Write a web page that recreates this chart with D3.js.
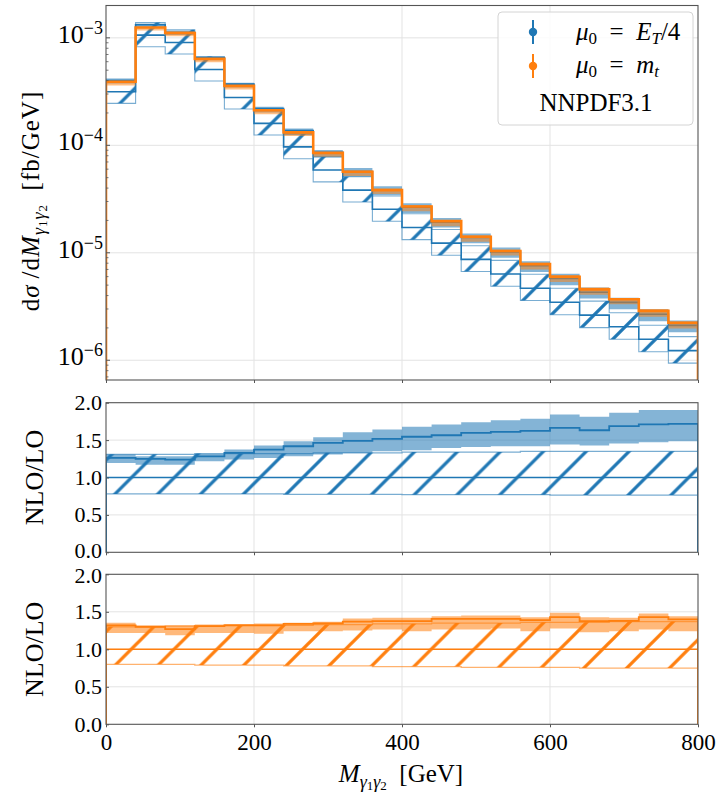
<!DOCTYPE html>
<html>
<head>
<meta charset="utf-8">
<script src="https://cdn.jsdelivr.net/npm/d3@7"></script>
<style>
    body { margin: 0; background: #fff; }
    text { font-family: "Liberation Serif", "DejaVu Serif", serif; fill: #000; }
</style>
</head>
<body>
<svg id="chart" width="717" height="794"></svg>
<script>
// bins of M_gamma1gamma2 [GeV]
var binLow = [0, 40, 80, 120, 160, 200, 240, 280, 320, 360, 400, 440, 480, 520, 560, 600, 640, 680, 720, 760];
var binEnd = 800;

// top panel: dsigma/dM [fb/GeV]
var nloMt = [3.9e-4, 1.25e-3, 1.11e-3, 6.38e-4, 3.57e-4, 2.12e-4, 1.32e-4, 8.5e-5, 5.67e-5, 3.83e-5,
             2.70e-5, 1.97e-5, 1.41e-5, 1.04e-5, 7.85e-6, 5.98e-6, 4.57e-6, 3.69e-6, 2.88e-6, 2.23e-6];
var loEt = [3.15e-4, 1.06e-3, 9.06e-4, 5.08e-4, 2.79e-4, 1.60e-4, 9.68e-5, 5.89e-5, 3.83e-5, 2.54e-5,
            1.72e-5, 1.23e-5, 8.69e-6, 6.34e-6, 4.67e-6, 3.46e-6, 2.63e-6, 2.05e-6, 1.57e-6, 1.23e-6];

// LO scale bands relative to LO central
var loEtUp   = [1.31, 1.31, 1.31, 1.32, 1.32, 1.32, 1.32, 1.33, 1.33, 1.33, 1.34, 1.34, 1.34, 1.34, 1.35, 1.35, 1.35, 1.35, 1.35, 1.35];
var loEtDown = [0.78, 0.78, 0.78, 0.78, 0.78, 0.78, 0.775, 0.775, 0.775, 0.775, 0.77, 0.77, 0.77, 0.77, 0.77, 0.765, 0.765, 0.765, 0.765, 0.765];
var loMtUp   = [1.30, 1.30, 1.31, 1.31, 1.32, 1.32, 1.32, 1.33, 1.33, 1.34, 1.34, 1.35, 1.35, 1.35, 1.36, 1.36, 1.36, 1.37, 1.37, 1.37];
var loMtDown = [0.80, 0.80, 0.80, 0.79, 0.79, 0.79, 0.78, 0.78, 0.78, 0.77, 0.77, 0.77, 0.76, 0.76, 0.76, 0.76, 0.75, 0.75, 0.75, 0.75];

// NLO/LO, mu0 = E_T/4
var ratioEt   = [1.262, 1.248, 1.239, 1.283, 1.33, 1.373, 1.418, 1.463, 1.49, 1.517, 1.545, 1.565, 1.597, 1.61, 1.624, 1.664, 1.632, 1.686, 1.709, 1.718];
var ratioEtHi = [1.306, 1.283, 1.283, 1.315, 1.373, 1.427, 1.485, 1.538, 1.605, 1.642, 1.678, 1.709, 1.74, 1.766, 1.785, 1.843, 1.812, 1.866, 1.901, 1.901];
var ratioEtLo = [1.195, 1.172, 1.172, 1.216, 1.239, 1.262, 1.283, 1.306, 1.329, 1.351, 1.364, 1.396, 1.409, 1.418, 1.418, 1.44, 1.427, 1.454, 1.471, 1.485];

// NLO/LO, mu0 = m_t
var ratioMt   = [1.32, 1.30, 1.27, 1.31, 1.318, 1.32, 1.34, 1.345, 1.37, 1.375, 1.375, 1.406, 1.406, 1.406, 1.39, 1.43, 1.375, 1.38, 1.43, 1.40];
var ratioMtHi = [1.353, 1.321, 1.321, 1.33, 1.339, 1.343, 1.353, 1.366, 1.41, 1.42, 1.42, 1.441, 1.45, 1.45, 1.428, 1.486, 1.428, 1.42, 1.477, 1.441];
var ratioMtLo = [1.219, 1.219, 1.187, 1.219, 1.219, 1.209, 1.24, 1.24, 1.25, 1.263, 1.24, 1.263, 1.263, 1.276, 1.24, 1.276, 1.227, 1.24, 1.263, 1.24];

var xTicks = [0, 200, 400, 600, 800];
var topTicks = [1e-6, 1e-5, 1e-4, 1e-3];
var topTickExp = ["\u22126", "\u22125", "\u22124", "\u22123"];
var ratioTicks = [0, 0.5, 1.0, 1.5, 2.0];

var blue = "#1f77b4", orange = "#ff7f0e";
var svg = d3.select("#chart");

var xScale = d3.scaleLinear().domain([0, 800]).range([106, 698]);
var yTop = d3.scaleLog().domain([6.55e-7, 2.0e-3]).range([380, 5.5]);
var yMid = d3.scaleLinear().domain([0, 2]).range([552.3, 402.7]);
var yBot = d3.scaleLinear().domain([0, 2]).range([724.3, 574.3]);

var defs = svg.append("defs");

// hatch "/" anchored to the page so it runs on across bins
function hatch(id, color) {
    var P = 42.86;
    var p = defs.append("pattern").attr("id", id)
        .attr("patternUnits", "userSpaceOnUse")
        .attr("x", 9).attr("y", 0).attr("width", P).attr("height", P);
    p.append("path")
        .attr("d", "M-2," + (P + 2) + "L" + (P + 2) + ",-2 M-6,6 L6,-6 M" + (P - 6) + "," + (P + 6) + " L" + (P + 6) + "," + (P - 6))
        .attr("stroke", color).attr("stroke-width", 3.3).attr("fill", "none");
}
hatch("hatchBlue", blue);
hatch("hatchOrange", orange);

function clip(id, yS) {
    defs.append("clipPath").attr("id", id).append("rect")
        .attr("x", xScale(0)).attr("y", yS.range()[1])
        .attr("width", xScale(800) - xScale(0))
        .attr("height", yS.range()[0] - yS.range()[1]);
}
clip("clipTop", yTop);
clip("clipMid", yMid);
clip("clipBot", yBot);

// step points: bin lows plus the closing edge
function stepData(lo, hi) {
    var pts = binLow.map(function (b, i) { return { x: b, lo: lo[i], hi: hi[i] }; });
    pts.push({ x: binEnd, lo: lo[lo.length - 1], hi: hi[hi.length - 1] });
    return pts;
}

function bandArea(yS) {
    return d3.area().curve(d3.curveStepAfter)
        .x(function (d) { return xScale(d.x); })
        .y0(function (d) { return yS(d.lo); })
        .y1(function (d) { return yS(d.hi); });
}

// histogram step line, dropping to the axis floor at both ends
function stepLine(vals, yS) {
    var floor = yS.domain()[0];
    var pts = [[0, floor]];
    binLow.forEach(function (b, i) {
        pts.push([b, vals[i]]);
        pts.push([i < binLow.length - 1 ? binLow[i + 1] : binEnd, vals[i]]);
    });
    pts.push([binEnd, floor]);
    return d3.line().x(function (d) { return xScale(d[0]); }).y(function (d) { return yS(d[1]); })(pts);
}

function mul(a, b) { return a.map(function (v, i) { return v * b[i]; }); }
function scaleBy(a, num, den) { return a.map(function (v, i) { return v * num[i] / den[i]; }); }
function ones() { return binLow.map(function () { return 1; }); }

function grid(yS, yGridVals) {
    var g = svg.append("g");
    g.selectAll(".gx").data(xTicks.slice(1, -1)).enter().append("line")
        .attr("x1", function (d) { return xScale(d); }).attr("x2", function (d) { return xScale(d); })
        .attr("y1", yS.range()[0]).attr("y2", yS.range()[1])
        .attr("stroke", "#e3e3e3").attr("stroke-width", 1);
    g.selectAll(".gy").data(yGridVals).enter().append("line")
        .attr("x1", xScale(0)).attr("x2", xScale(800))
        .attr("y1", function (d) { return yS(d); }).attr("y2", function (d) { return yS(d); })
        .attr("stroke", "#e3e3e3").attr("stroke-width", 1);
}

function frame(yS, showXLabels) {
    var g = svg.append("g");
    g.append("rect").attr("x", xScale(0)).attr("y", yS.range()[1])
        .attr("width", xScale(800) - xScale(0)).attr("height", yS.range()[0] - yS.range()[1])
        .attr("fill", "none").attr("stroke", "#555").attr("stroke-width", 1.1);
    var ax = g.append("g").attr("transform", "translate(0," + yS.range()[0] + ")")
        .call(d3.axisBottom(xScale).tickValues(xTicks).tickSize(3).tickPadding(6)
            .tickFormat(showXLabels ? d3.format("d") : ""));
    ax.select(".domain").remove();
    ax.selectAll("line").attr("stroke", "#555");
    ax.selectAll("text").attr("font-size", 23).attr("font-family", "Liberation Serif, serif");
}

// ---------- top panel ----------
grid(yTop, topTicks);
var topG = svg.append("g").attr("clip-path", "url(#clipTop)");

topG.append("path").datum(stepData(mul(loEt, loEtDown), mul(loEt, loEtUp)))
    .attr("d", bandArea(yTop)).attr("fill", "url(#hatchBlue)")
    .attr("stroke", blue).attr("stroke-opacity", 0.6).attr("stroke-width", 1.1);
topG.append("path").attr("d", stepLine(loEt, yTop))
    .attr("fill", "none").attr("stroke", blue).attr("stroke-width", 1.6);
topG.append("path").datum(stepData(mul(loEt, ratioEtLo), mul(loEt, ratioEtHi)))
    .attr("d", bandArea(yTop)).attr("fill", blue).attr("fill-opacity", 0.55);
topG.append("path").attr("d", stepLine(mul(loEt, ratioEt), yTop))
    .attr("fill", "none").attr("stroke", blue).attr("stroke-width", 1.6);
topG.append("path").datum(stepData(scaleBy(nloMt, ratioMtLo, ratioMt), scaleBy(nloMt, ratioMtHi, ratioMt)))
    .attr("d", bandArea(yTop)).attr("fill", orange).attr("fill-opacity", 0.5);
topG.append("path").attr("d", stepLine(nloMt, yTop))
    .attr("fill", "none").attr("stroke", orange).attr("stroke-width", 2.6);

frame(yTop, false);

// log y axis: major + minor ticks pointing inward
var minor = [];
[-7, -6, -5, -4, -3].forEach(function (e) {
    for (var k = 2; k <= 9; k++) {
        var v = k * Math.pow(10, e);
        if (v > yTop.domain()[0] && v < yTop.domain()[1]) minor.push(v);
    }
});
svg.append("g").selectAll("line").data(minor).enter().append("line")
    .attr("x1", xScale(0)).attr("x2", xScale(0) + 2.5)
    .attr("y1", function (d) { return yTop(d); }).attr("y2", function (d) { return yTop(d); })
    .attr("stroke", "#555").attr("stroke-width", 0.8);
svg.append("g").selectAll("line").data(topTicks).enter().append("line")
    .attr("x1", xScale(0)).attr("x2", xScale(0) + 4)
    .attr("y1", function (d) { return yTop(d); }).attr("y2", function (d) { return yTop(d); })
    .attr("stroke", "#555").attr("stroke-width", 1);
var tl = svg.append("g").selectAll("text").data(topTicks).enter().append("text")
    .attr("x", 103).attr("y", function (d) { return yTop(d) + 5; })
    .attr("text-anchor", "end").attr("font-size", 26);
tl.append("tspan").text("10");
tl.append("tspan").attr("dy", -9).attr("font-size", 18).text(function (d, i) { return topTickExp[i]; });

// ---------- ratio panels ----------
function ratioPanel(yS, clipId, color, hatchId, up, down, r, rLo, rHi, nudge) {
    grid(yS, ratioTicks.slice(1, -1));
    var g = svg.append("g").attr("clip-path", "url(#" + clipId + ")");
    g.append("path").datum(stepData(down, up)).attr("d", bandArea(yS))
        .attr("fill", "url(#" + hatchId + ")").attr("stroke", "none");
    [up, down].forEach(function (edge) {
        g.append("path").attr("d", d3.line().curve(d3.curveStepAfter)
                .x(function (d) { return xScale(d.x); }).y(function (d) { return yS(d.hi); })(stepData(edge, edge)))
            .attr("fill", "none").attr("stroke", color).attr("stroke-opacity", 0.6).attr("stroke-width", 1.3);
    });
    g.append("path").attr("d", stepLine(ones(), yS))
        .attr("fill", "none").attr("stroke", color).attr("stroke-width", 1.6);
    g.append("path").datum(stepData(rLo, rHi)).attr("d", bandArea(yS))
        .attr("fill", color).attr("fill-opacity", 0.55);
    g.append("path").attr("d", stepLine(r, yS))
        .attr("fill", "none").attr("stroke", color).attr("stroke-width", 1.8);

    var yl = svg.append("g").attr("transform", "translate(" + xScale(0) + ",0)")
        .call(d3.axisLeft(yS).tickValues(ratioTicks).tickSize(-3).tickPadding(7).tickFormat(d3.format(".1f")));
    yl.select(".domain").remove();
    yl.selectAll("line").attr("stroke", "#555");
    yl.selectAll("text").attr("font-size", 22).attr("font-family", "Liberation Serif, serif")
        .attr("x", 102 - xScale(0))
        .attr("y", function (d) { return nudge(d); });
}

// end labels of the two stacked ratio panels sit very close together
ratioPanel(yMid, "clipMid", blue, "hatchBlue", loEtUp, loEtDown, ratioEt, ratioEtLo, ratioEtHi,
    function (d) { return d === 0 ? -1.5 : 0; });
frame(yMid, false);
ratioPanel(yBot, "clipBot", orange, "hatchOrange", loMtUp, loMtDown, ratioMt, ratioMtLo, ratioMtHi,
    function (d) { return d === 2 ? 1.5 : 0; });
frame(yBot, true);

// ---------- axis labels ----------
function ylabelRatio(cy) {
    svg.append("text").attr("transform", "translate(43," + cy + ") rotate(-90)")
        .attr("text-anchor", "middle").attr("font-size", 26).text("NLO/LO");
}
ylabelRatio(477.5);
ylabelRatio(649.3);

function subGamma(t, big, small) {
    t.append("tspan").attr("font-style", "italic").attr("font-size", big).attr("dy", 6).text("\u03b3");
    t.append("tspan").attr("font-size", small).attr("dy", 2).text("1");
    t.append("tspan").attr("font-style", "italic").attr("font-size", big).attr("dy", -2).text("\u03b3");
    t.append("tspan").attr("font-size", small).attr("dy", 2).text("2");
}

var ytl = svg.append("text").attr("transform", "translate(39,201) rotate(-90)")
    .attr("text-anchor", "middle").attr("font-size", 25).attr("letter-spacing", 1);
ytl.append("tspan").text("d");
ytl.append("tspan").attr("font-style", "italic").text("\u03c3\u2009");
ytl.append("tspan").text("/d");
ytl.append("tspan").attr("font-style", "italic").text("M");
subGamma(ytl, 18, 13);
ytl.append("tspan").attr("dy", -8).text("\u2002[fb/GeV]");

var xl = svg.append("text").attr("x", 401).attr("y", 782)
    .attr("text-anchor", "middle").attr("font-size", 25);
xl.append("tspan").attr("font-style", "italic").text("M");
subGamma(xl, 18, 13);
xl.append("tspan").attr("dy", -8).text("\u2002[GeV]");

// ---------- legend ----------
var lg = svg.append("g");
lg.append("rect").attr("x", 498).attr("y", 12).attr("width", 195).attr("height", 113)
    .attr("rx", 4).attr("fill", "#fff").attr("fill-opacity", 0.85)
    .attr("stroke", "#d4d4d4").attr("stroke-width", 1);
var legendItems = [{ color: blue, y: 32 }, { color: orange, y: 66 }];
legendItems.forEach(function (it) {
    lg.append("line").attr("x1", 533).attr("x2", 533).attr("y1", it.y - 12).attr("y2", it.y + 12)
        .attr("stroke", it.color).attr("stroke-width", 2);
    lg.append("circle").attr("cx", 533).attr("cy", it.y).attr("r", 4.2).attr("fill", it.color);
});
var t1 = lg.append("text").attr("x", 576).attr("y", 40).attr("font-size", 25);
t1.append("tspan").attr("font-style", "italic").text("\u03bc");
t1.append("tspan").attr("font-size", 17).attr("dy", 4).text("0");
t1.append("tspan").attr("dy", -4).text("\u2002=\u2002");
t1.append("tspan").attr("font-style", "italic").text("E");
t1.append("tspan").attr("font-style", "italic").attr("font-size", 17).attr("dy", 4).text("T");
t1.append("tspan").attr("dy", -4).text("/4");
var t2 = lg.append("text").attr("x", 576).attr("y", 73).attr("font-size", 25);
t2.append("tspan").attr("font-style", "italic").text("\u03bc");
t2.append("tspan").attr("font-size", 17).attr("dy", 4).text("0");
t2.append("tspan").attr("dy", -4).text("\u2002=\u2002");
t2.append("tspan").attr("font-style", "italic").text("m");
t2.append("tspan").attr("font-style", "italic").attr("font-size", 17).attr("dy", 4).text("t");
lg.append("text").attr("x", 596).attr("y", 111).attr("text-anchor", "middle")
    .attr("font-size", 25).text("NNPDF3.1");
</script>
</body>
</html>
